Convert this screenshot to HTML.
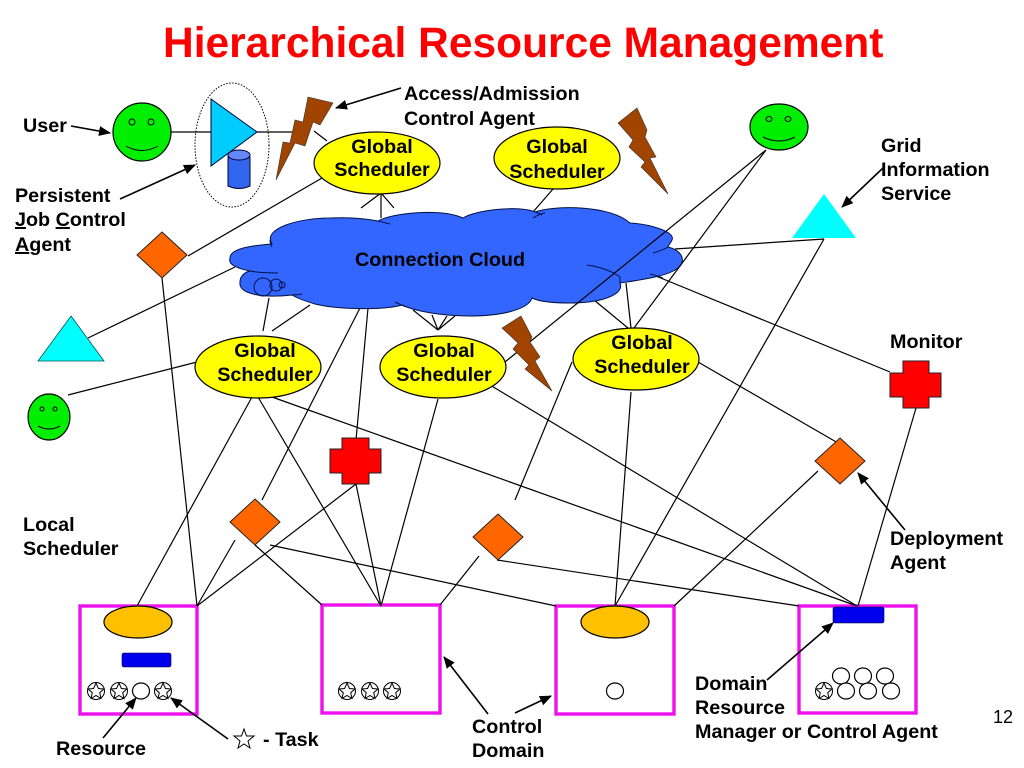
<!DOCTYPE html>
<html><head><meta charset="utf-8">
<style>
html,body{margin:0;padding:0;background:#fff}
svg{display:block}
text{font-family:"Liberation Sans",sans-serif;font-weight:bold;font-size:19.75px;fill:#000}
.l{stroke:#000;stroke-width:1.2;fill:none}
.y{fill:#ffff00;stroke:#000;stroke-width:1.2}
.d{fill:#ff6600;stroke:#222;stroke-width:1}
.b{fill:#a04400;stroke:#333;stroke-width:.6}
.g{fill:#00ee00;stroke:#000;stroke-width:1.2}
.e{fill:none;stroke:#000;stroke-width:1}
.p{fill:#fff;stroke:#ee11ee;stroke-width:3.4}
.r{fill:#ff0000;stroke:#222;stroke-width:1}
.o{fill:#ffc000;stroke:#000;stroke-width:1.2}
.u{fill:#0000ee;stroke:#003;stroke-width:.6}
.c{fill:#fff;stroke:#000;stroke-width:1.2}
.ar{stroke:#000;stroke-width:1.6;fill:none}
</style></head><body>
<svg width="1024" height="768" viewBox="0 0 1024 768" xmlns="http://www.w3.org/2000/svg">
<defs>
<marker id="a" viewBox="0 0 12 10" refX="11" refY="5" markerWidth="12" markerHeight="10" markerUnits="userSpaceOnUse" orient="auto"><path d="M0 0L12 5L0 10Z" fill="#000"/></marker>
<g id="s"><circle r="8.5" fill="#fff" stroke="#000" stroke-width="1"/><polygon points="0,-8 2.4,-2.5 8,-2 3.7,1.7 5,7.5 0,4.5 -5,7.5 -3.7,1.7 -8,-2 -2.4,-2.5" fill="#fff" stroke="#000" stroke-width="1"/></g>
</defs>

<rect x="80" y="606" width="117" height="108" class="p"/>
<rect x="322" y="605" width="118" height="108" class="p"/>
<rect x="556" y="606" width="118" height="108" class="p"/>
<rect x="799" y="606" width="117" height="107" class="p"/>

<g class="l">
<path d="M171 132H212M257 132H292M314 131L327 141"/>
<path d="M322 178L188 256M162 278L197 606M88 338L235 267"/>
<path d="M361 208L381 193L394 208M381 193V218M553 189L533 212"/>
<path d="M824 239L675 249M824 239L615 606"/>
<path d="M626 283L631 328M594 300L628 328M651 274L890 372"/>
<path d="M698 362L838 443M818 471L674 606M916 408L858 606"/>
<path d="M631 392L615 606M572 362L515 500M479 556L440 605"/>
<path d="M438 399L381 606M413 310L438 330M432 315L438 330M447 316L438 330M455 316L438 330"/>
<path d="M269 298L263 331M310 305L272 331"/>
<path d="M360 308L262 500M368 308L356 440M356 484L381 606M356 484L197 606"/>
<path d="M252 397L137 606M258 397L381 606M272 397L857 606M197 362L68 395"/>
<path d="M235 540L197 606M255 545L322 605M270 545L556 606M497 560L799 606M490 385L857 606"/>
</g>

<path d="M230 258C230 250 245 246 272 244C262 228 300 218 330 218C350 217 368 219 378 221C392 213 440 208 463 218C475 210 520 205 535 212C555 205 610 205 630 223C650 224 676 232 672 240C670 244 668 246 668 247C680 250 686 258 680 266C672 276 640 280 620 283C625 295 600 303 570 303C555 303 540 302 532 298C528 310 500 316 470 316C440 316 415 311 402 305C385 310 340 310 315 304C305 301 297 298 292 295C265 298 238 295 240 282C240 276 245 272 250 271C235 268 228 264 230 258Z" fill="#3366ff" stroke="#001144" stroke-width="1"/>
<g fill="none" stroke="#001144" stroke-width="1">
<path d="M587 265C600 267 612 271 620 277L620 283"/>
<path d="M653 253C660 251 665 249 668 247M650 274C655 275 660 277 663 278"/>
<path d="M395 302C399 304 403 306 407 307M250 271C260 273 270 273 278 273M302 294C297 295 294 295 292 295"/>
<path d="M378 221C382 222 386 223 390 224M533 218C538 215 542 213 545 213M535 212C538 213 540 214 542 215"/>
<path d="M270 240C270 243 271 245 272 247"/>
<ellipse cx="263" cy="287" rx="9" ry="9"/><ellipse cx="276" cy="285" rx="6" ry="6"/><circle cx="282" cy="285" r="3"/>
</g>

<g class="l">
<path d="M766 150L505 362M766 150L634 328"/>
</g>

<circle cx="142" cy="132" r="29" class="g"/>
<g class="e"><circle cx="132" cy="122" r="3"/><circle cx="151" cy="122" r="3"/><path d="M126 146Q142 155 158 146"/></g>

<ellipse cx="779" cy="127" rx="29" ry="23" class="g"/>
<g class="e"><ellipse cx="769" cy="119" rx="3" ry="2.5"/><ellipse cx="788" cy="119" rx="3" ry="2.5"/><path d="M763 137Q779 145 795 137"/></g>

<ellipse cx="49" cy="417" rx="21" ry="23" class="g"/>
<g class="e"><circle cx="42" cy="409" r="2"/><circle cx="55" cy="409" r="2"/><path d="M38 426Q49 432 60 426"/></g>

<ellipse cx="232" cy="145" rx="37" ry="62" fill="none" stroke="#000" stroke-width="1" stroke-dasharray="1.5 1.5"/>
<polygon points="211,99 257,132 211,166" fill="#00ccff" stroke="#003" stroke-width="1"/>
<path d="M228 157V186Q239 191 250 186V157Z" fill="#3366ee" stroke="#003" stroke-width="1"/>
<ellipse cx="239" cy="155" rx="11" ry="5" fill="#6688ff" stroke="#003" stroke-width="1"/>

<polygon class="b" points="308,97 333,103 320,125 313,122 305,146 295,143 276,180 283,142 290,143 295,120 303,122"/>
<polygon class="b" points="637,108 618,123 633,140 629,147 645,162 641,167 668,194 650,158 656,157 645,137 647,130"/>
<polygon class="b" points="521,316 502,328 518,343 513,349 529,365 525,369 552,391 535,361 540,357 530,342 532,337"/>

<ellipse cx="377" cy="163" rx="63" ry="31" class="y"/>
<ellipse cx="557" cy="158" rx="63" ry="31" class="y"/>
<ellipse cx="258" cy="367" rx="63" ry="31" class="y"/>
<ellipse cx="443" cy="367" rx="63" ry="31" class="y"/>
<ellipse cx="636" cy="359" rx="63" ry="31" class="y"/>

<polygon class="d" points="162,232 187,255 162,278 137,255"/>
<polygon class="d" points="255,499 280,522 255,545 230,522"/>
<polygon class="d" points="498,514 523,537 498,560 473,537"/>
<polygon class="d" points="840,438 865,461 840,484 815,461"/>

<polygon points="71,316 104,361 38,361" fill="#00ffff" stroke="#055" stroke-width=".8"/>
<polygon points="824,194 856,238 792,238" fill="#00ffff"/>

<polygon class="r" points="342,438 369,438 369,449 381,449 381,473 369,473 369,484 342,484 342,473 330,473 330,449 342,449"/>
<polygon class="r" points="903,361 929,361 929,373 941,373 941,397 929,397 929,408 903,408 903,397 890,397 890,373 903,373"/>

<ellipse cx="138" cy="622" rx="34" ry="16" class="o"/>
<ellipse cx="615" cy="622" rx="34" ry="16" class="o"/>
<rect x="122" y="653" width="49" height="14" rx="2" class="u"/>
<rect x="833" y="607" width="51" height="16" rx="2" class="u"/>

<use href="#s" x="96" y="691"/><use href="#s" x="119" y="691"/><use href="#s" x="163" y="691"/>
<ellipse cx="141" cy="691" rx="8.5" ry="8" class="c"/>
<use href="#s" x="347" y="691"/><use href="#s" x="370" y="691"/><use href="#s" x="392" y="691"/>
<ellipse cx="615" cy="691" rx="8.5" ry="8" class="c"/>
<ellipse cx="841" cy="676" rx="8.5" ry="8" class="c"/><ellipse cx="863" cy="676" rx="8.5" ry="8" class="c"/><ellipse cx="885" cy="676" rx="8.5" ry="8" class="c"/>
<ellipse cx="846" cy="691" rx="8.5" ry="8" class="c"/><ellipse cx="868" cy="691" rx="8.5" ry="8" class="c"/><ellipse cx="891" cy="691" rx="8.5" ry="8" class="c"/>
<use href="#s" x="824" y="691"/>
<polygon points="244,729 246.500,736 254,736 248,741 250,748 244,744 238,748 240,741 234,736 241.500,736" fill="#fff" stroke="#000" stroke-width="1"/>

<g class="ar">
<line x1="71" y1="126" x2="110" y2="133" marker-end="url(#a)"/>
<line x1="401" y1="88" x2="336" y2="108" marker-end="url(#a)"/>
<line x1="120" y1="199" x2="195" y2="165" marker-end="url(#a)"/>
<line x1="883" y1="168" x2="842" y2="207" marker-end="url(#a)"/>
<line x1="905" y1="530" x2="858" y2="473" marker-end="url(#a)"/>
<line x1="488" y1="714" x2="444" y2="657" marker-end="url(#a)"/>
<line x1="515" y1="713" x2="551" y2="696" marker-end="url(#a)"/>
<line x1="767" y1="680" x2="833" y2="623" marker-end="url(#a)"/>
<line x1="103" y1="738" x2="136" y2="698" marker-end="url(#a)"/>
<line x1="228" y1="739" x2="171" y2="698" marker-end="url(#a)"/>
</g>

<text x="163" y="57" style="font-size:42.5px;fill:#ff0000">Hierarchical Resource Management</text>
<text x="23" y="132">User</text>
<text x="404" y="100">Access/Admission</text>
<text x="404" y="125">Control Agent</text>
<text x="15" y="202">Persistent</text>
<text x="15" y="226"><tspan text-decoration="underline">J</tspan>ob <tspan text-decoration="underline">C</tspan>ontrol</text>
<text x="15" y="251"><tspan text-decoration="underline">A</tspan>gent</text>
<text x="881" y="152">Grid</text>
<text x="881" y="176">Information</text>
<text x="881" y="200">Service</text>
<text x="890" y="348">Monitor</text>
<text x="890" y="545">Deployment</text>
<text x="890" y="569">Agent</text>
<text x="23" y="531">Local</text>
<text x="23" y="555">Scheduler</text>
<text x="695" y="690">Domain</text>
<text x="695" y="714">Resource</text>
<text x="695" y="738">Manager or Control Agent</text>
<text x="472" y="733">Control</text>
<text x="472" y="757">Domain</text>
<text x="56" y="755">Resource</text>
<text x="263" y="746">- Task</text>
<text x="355" y="266">Connection Cloud</text>

<g text-anchor="middle">
<text x="382" y="153">Global</text><text x="382" y="176">Scheduler</text>
<text x="557" y="153">Global</text><text x="557" y="178">Scheduler</text>
<text x="265" y="357">Global</text><text x="265" y="381">Scheduler</text>
<text x="444" y="357">Global</text><text x="444" y="381">Scheduler</text>
<text x="642" y="349">Global</text><text x="642" y="373">Scheduler</text>
</g>
<text x="993" y="723" style="font-weight:normal;font-size:18px">12</text>
</svg>
</body></html>
